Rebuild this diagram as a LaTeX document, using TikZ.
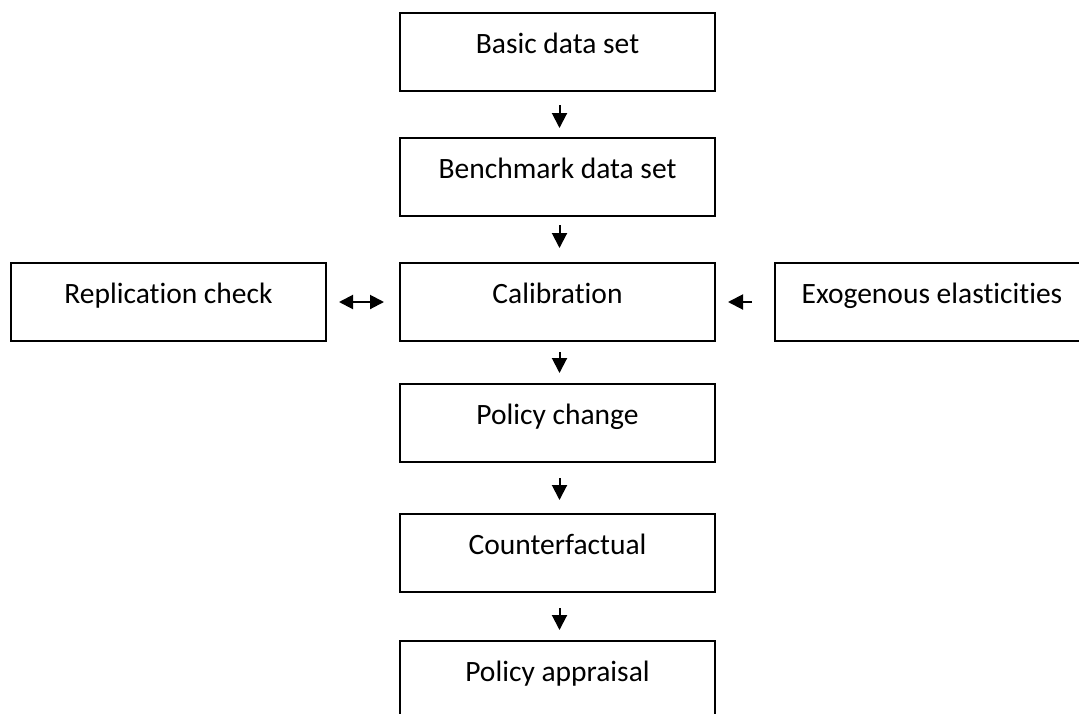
\documentclass[tikz,border=0pt]{standalone}
\usepackage{fontspec}
\setmainfont{Carlito}[Ligatures={NoCommon,NoContextual}, RawFeature={-liga;-clig;-calt;-dlig}]
\usetikzlibrary{arrows.meta,calc}
\begin{document}
\begin{tikzpicture}[x=1pt,y=-1pt,
  box/.style={draw=black, line width=2pt, anchor=north, minimum width=#1,
    text height=40pt, text depth=38pt, inner ysep=0pt, inner xsep=0pt,
    font=\fontsize{29.5}{34}\selectfont},
  box/.default=315pt,
  arr/.style={line width=2pt, -{Triangle[width=15pt,length=15pt]}},
  darr/.style={line width=2pt, {Triangle[width=14pt,length=14pt]}-{Triangle[width=14pt,length=14pt]}},
]
\useasboundingbox (0,0) rectangle (1079,713);
\clip (0,0) rectangle (1079,713);

\node[box] (basic) at (557.5,12) {Basic data set};
\node[box] (bench) at (557.5,137) {Benchmark data set};
\node[box] (cal) at (557.5,262) {Calibration};
\node[box] (pol) at (557.5,383) {Policy change};
\node[box] (cf) at (557.5,513) {Counterfactual};
\node[box] (app) at (557.5,640) {Policy appraisal};
\node[box] (rep) at (168.5,262) {Replication check};
\node[box=314pt] (exo) at (932,262) {Exogenous elasticities};

\draw[arr] ($(basic.south)+(2,13)$) -- ($(bench.north)+(2,-9)$);
\draw[arr] ($(bench.south)+(2,8)$) -- ($(cal.north)+(2,-14)$);
\draw[arr] ($(cal.south)+(2,10)$) -- ($(pol.north)+(2,-10)$);
\draw[arr] ($(pol.south)+(2,15)$) -- ($(cf.north)+(2,-13)$);
\draw[arr] ($(cf.south)+(2,15)$) -- ($(app.north)+(2,-10)$);

\draw[darr] ($(rep.east)+(12,0)$) -- ($(cal.west)+(-15,0)$);
\draw[arr] ($(exo.west)+(-22,0)$) -- ($(cal.east)+(12,0)$);
\end{tikzpicture}
\end{document}
